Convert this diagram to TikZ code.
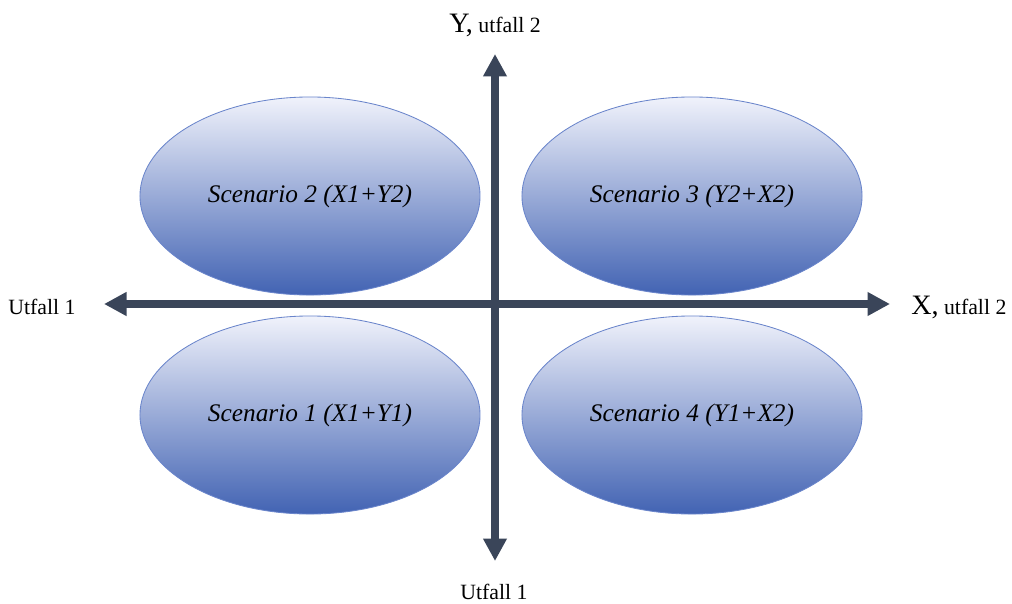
\documentclass[tikz,border=0pt]{standalone}
\usepackage{fontspec}
\setmainfont{Liberation Serif}
\usetikzlibrary{arrows.meta,shapes.geometric}
\definecolor{ellTop}{HTML}{F0F2FB}
\definecolor{ellBottom}{HTML}{4263B3}
\definecolor{ellEdge}{HTML}{6A85CB}
\definecolor{axisDark}{HTML}{3A4559}
\tikzset{
  scen/.style={ellipse,draw=ellEdge,line width=0.6pt,top color=ellTop,bottom color=ellBottom,
    minimum width=8.5cm,minimum height=4.95cm,inner sep=0pt,
    font=\fontsize{18}{20}\selectfont\itshape},
  axis/.style={draw=axisDark,line width=5.5pt,
    {Triangle[length=16pt,width=16pt]}-{Triangle[length=16pt,width=16pt]}},
  lab/.style={font=\fontsize{15.5}{17}\selectfont,inner sep=0pt}
}

\begin{document}
\begin{tikzpicture}[x=0.025cm,y=-0.025cm]
  \useasboundingbox (0,0) rectangle (1012,604);
  \node[scen] (s2) at (310,196) {Scenario 2 (X1+Y2)};
  \node[scen] (s3) at (692,196) {Scenario 3 (Y2+X2)};
  \node[scen] (s1) at (310,415) {Scenario 1 (X1+Y1)};
  \node[scen] (s4) at (692,415) {Scenario 4 (Y1+X2)};

  \coordinate (west) at (104,304);
  \coordinate (east) at (890,304);
  \coordinate (north) at (495,54);
  \coordinate (south) at (495,561);
  \draw[axis] (west) -- (east);
  \draw[axis] (south) -- (north);

  \node[lab] (ylab) at (495,25) {{\fontsize{20}{22}\selectfont Y,} utfall 2};
  \node[lab,anchor=west] (left) at (8,307) {Utfall 1};
  \node[lab,anchor=west] (xlab) at (911,307) {{\fontsize{20}{22}\selectfont X,} utfall 2};
  \node[lab] (down) at (494,592) {Utfall 1};
\end{tikzpicture}
\end{document}
